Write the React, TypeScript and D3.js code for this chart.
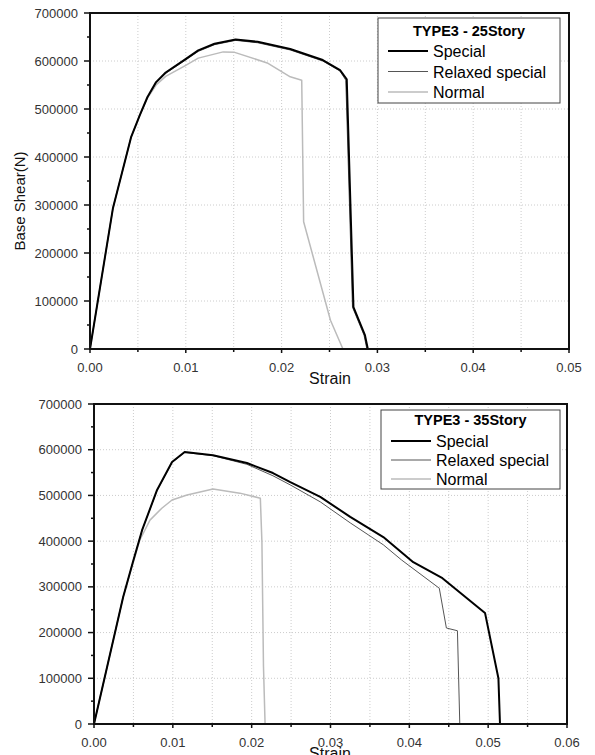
import React from "react";
import * as d3 from "d3";

// strain, base shear (N)
const story25Special: [number, number][] = [
  [0, 0], [0.0024, 294000], [0.0043, 442000], [0.0052, 487000], [0.006, 525000],
  [0.0069, 556000], [0.0079, 576000], [0.0099, 603000], [0.0113, 622000], [0.013, 636000],
  [0.0152, 645000], [0.0175, 640000], [0.0209, 625000], [0.0243, 602000], [0.0261, 581000],
  [0.0268, 562000], [0.0275, 87000], [0.0287, 29000], [0.029, 0],
];
const story25Relaxed: [number, number][] = [
  [0, 0], [0.0024, 294000], [0.0043, 442000], [0.0052, 487000], [0.006, 524000],
  [0.0069, 554000], [0.0079, 574000], [0.0099, 601000], [0.0113, 620000], [0.013, 634000],
  [0.0152, 643000], [0.0175, 638000], [0.0209, 623000], [0.0243, 600000], [0.0261, 579000],
  [0.0267, 560000], [0.0274, 87000], [0.0286, 29000], [0.0289, 0],
];
const story25Normal: [number, number][] = [
  [0, 0], [0.0024, 294000], [0.0043, 442000], [0.0052, 487000], [0.006, 523000],
  [0.0069, 550000], [0.0079, 568000], [0.0099, 590000], [0.0113, 606000], [0.0139, 619000],
  [0.0151, 618000], [0.0185, 596000], [0.0209, 567000], [0.0221, 560000], [0.0223, 265000],
  [0.0251, 60000], [0.0264, 0],
];

const story35Special: [number, number][] = [
  [0, 0], [0.0037, 278000], [0.0049, 352000], [0.0061, 424000], [0.008, 512000],
  [0.0099, 573000], [0.0115, 595000], [0.0151, 588000], [0.0194, 571000], [0.0227, 549000],
  [0.0249, 529000], [0.0287, 497000], [0.0325, 453000], [0.0367, 409000], [0.0405, 354000],
  [0.0442, 319000], [0.0496, 243000], [0.0513, 100000], [0.0515, 0],
];
const story35Relaxed: [number, number][] = [
  [0, 0], [0.0037, 278000], [0.0049, 352000], [0.0061, 424000], [0.008, 511000],
  [0.0099, 572000], [0.0115, 594000], [0.0151, 587000], [0.0194, 568000], [0.0227, 543000],
  [0.0249, 523000], [0.0287, 486000], [0.0325, 440000], [0.0367, 392000], [0.039, 359000],
  [0.0438, 297000], [0.0447, 210000], [0.0461, 204000], [0.0464, 0],
];
const story35Normal: [number, number][] = [
  [0, 0], [0.0037, 278000], [0.0048, 343000], [0.0058, 402000], [0.0071, 446000],
  [0.0086, 472000], [0.0099, 490000], [0.0118, 501000], [0.0151, 514000], [0.0185, 505000],
  [0.0211, 494000], [0.0213, 398000], [0.0215, 125000], [0.0217, 0],
];

const seriesNames = ["Special", "Relaxed special", "Normal"];
const yTicks = [0, 100000, 200000, 300000, 400000, 500000, 600000, 700000];
const xTicks25 = [0, 0.01, 0.02, 0.03, 0.04, 0.05];
const xTicks35 = [0, 0.01, 0.02, 0.03, 0.04, 0.05, 0.06];

const styles: Record<string, { color: string; width: number }> = {
  Special: { color: "#000", width: 2 },
  "Relaxed special": { color: "#555", width: 1 },
  Normal: { color: "#bbb", width: 1.5 },
};

const font = "'Liberation Sans', Arial, sans-serif";

function drawChart(svg, opt) {
  const { left, right, top, bottom, xTicks, title, data, yTitle, legend } = opt;
  const g = svg.append("g");
  const x = d3.scaleLinear().domain([0, xTicks[xTicks.length - 1]]).range([left, right]);
  const y = d3.scaleLinear().domain([0, 700000]).range([bottom, top]);
  const step = xTicks[1];

  // grid: vertical at majors + minors, horizontal at majors
  const xGrid = d3.range(1, (xTicks.length - 1) * 2).map(i => i * step / 2);
  g.selectAll(".vg").data(xGrid).join("line")
    .attr("x1", d => x(d)).attr("x2", d => x(d))
    .attr("y1", top).attr("y2", bottom)
    .attr("stroke", "#ccc").attr("stroke-dasharray", "1,2");
  g.selectAll(".hg").data(yTicks.slice(1, -1)).join("line")
    .attr("x1", left).attr("x2", right)
    .attr("y1", d => y(d)).attr("y2", d => y(d))
    .attr("stroke", "#ccc").attr("stroke-dasharray", "1,2");

  const line = d3.line().x(d => x(d[0])).y(d => y(d[1]));
  // draw order: normal, relaxed, special
  [2, 1, 0].forEach(i => {
    const s = styles[seriesNames[i]];
    g.append("path").datum(data[i])
      .attr("d", line)
      .attr("fill", "none")
      .attr("stroke", s.color)
      .attr("stroke-width", s.width)
      .attr("stroke-linejoin", "round");
  });

  // frame
  g.append("rect")
    .attr("x", left).attr("y", top)
    .attr("width", right - left).attr("height", bottom - top)
    .attr("fill", "none").attr("stroke", "#111").attr("stroke-width", 2);

  // ticks
  const xMinor = d3.range(0, (xTicks.length - 1) * 2 + 1).map(i => i * step / 2);
  g.selectAll(".xt").data(xMinor).join("line")
    .attr("x1", d => x(d)).attr("x2", d => x(d))
    .attr("y1", bottom).attr("y2", (d, i) => bottom + (i % 2 ? 3 : 4))
    .attr("stroke", "#111").attr("stroke-width", 1.5);
  const yMinor = d3.range(0, 15).map(i => i * 50000);
  g.selectAll(".yt").data(yMinor).join("line")
    .attr("x1", (d, i) => left - (i % 2 ? 3 : 6)).attr("x2", left)
    .attr("y1", d => y(d)).attr("y2", d => y(d))
    .attr("stroke", "#111").attr("stroke-width", 1.5);

  g.selectAll(".xl").data(xTicks).join("text")
    .attr("x", d => x(d)).attr("y", bottom + 23)
    .attr("text-anchor", "middle")
    .attr("font-family", font).attr("font-size", 13).attr("fill", "#333")
    .text(d => d3.format(".2f")(d));
  g.selectAll(".yl").data(yTicks).join("text")
    .attr("x", left - 12).attr("y", d => y(d) + 4.5)
    .attr("text-anchor", "end")
    .attr("font-family", font).attr("font-size", 13).attr("fill", "#333")
    .text(d => d3.format("d")(d));

  g.append("text")
    .attr("x", 330).attr("y", bottom + 35)
    .attr("text-anchor", "middle")
    .attr("font-family", font).attr("font-size", 16).attr("fill", "#111")
    .text("Strain");

  if (yTitle) {
    g.append("text")
      .attr("transform", `translate(25,${(top + bottom) / 2 + 20}) rotate(-90)`)
      .attr("text-anchor", "middle")
      .attr("font-family", font).attr("font-size", 15).attr("fill", "#111")
      .text(yTitle);
  }

  // legend
  const lg = g.append("g").attr("transform", `translate(${legend.x},${legend.y})`);
  lg.append("rect")
    .attr("width", legend.w).attr("height", legend.h)
    .attr("fill", "#fff").attr("stroke", "#444").attr("stroke-width", 1);
  lg.append("text")
    .attr("x", legend.w / 2).attr("y", legend.titleY)
    .attr("text-anchor", "middle")
    .attr("font-family", font).attr("font-size", 14.5).attr("font-weight", "bold").attr("fill", "#000")
    .text(title);
  seriesNames.forEach((name, i) => {
    const s = styles[name];
    const ly = legend.first + i * legend.gap;
    lg.append("line")
      .attr("x1", 10).attr("x2", 50).attr("y1", ly).attr("y2", ly)
      .attr("stroke", s.color).attr("stroke-width", s.width);
    lg.append("text")
      .attr("x", 55).attr("y", ly + 6)
      .attr("font-family", font).attr("font-size", 16).attr("fill", "#000")
      .text(name);
  });
}

const App = () => {
  const ref = React.useRef(null);

  React.useEffect(() => {
    const svg = d3.select(ref.current);
    svg.selectAll("*").remove();

    drawChart(svg, {
      left: 90, right: 569, top: 13, bottom: 349,
      xTicks: xTicks25,
      title: "TYPE3 - 25Story",
      data: [story25Special, story25Relaxed, story25Normal],
      yTitle: "Base Shear(N)",
      legend: { x: 378, y: 18, w: 182, h: 85, titleY: 18, first: 33, gap: 20.5 },
    });
    drawChart(svg, {
      left: 94, right: 567, top: 404, bottom: 724,
      xTicks: xTicks35,
      title: "TYPE3 - 35Story",
      data: [story35Special, story35Relaxed, story35Normal],
      yTitle: null,
      legend: { x: 381, y: 410, w: 179, h: 79, titleY: 15, first: 31, gap: 19 },
    });
  }, []);

  return (
    <svg
      ref={ref}
      width={595}
      height={755}
      style={{ position: "absolute", left: 0, top: 0, background: "#fff" }}
    />
  );
};

export default App;
